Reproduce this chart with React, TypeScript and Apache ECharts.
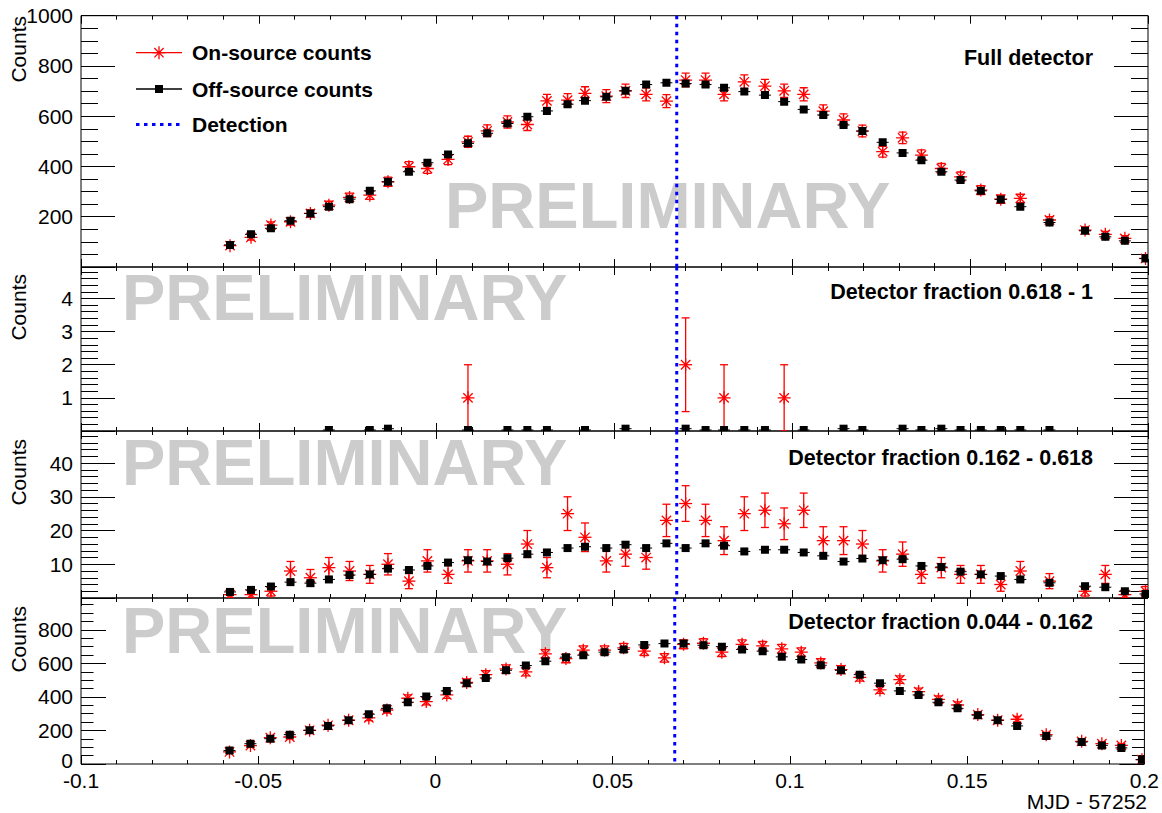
import React, { useEffect, useRef } from 'react';
import * as echarts from 'echarts';

// ---- data (MJD - 57252) ----
const TIMES = [
  -0.0581, -0.0522, -0.0466, -0.0411, -0.0355, -0.0303, -0.0245, -0.0188, -0.0137, -0.0078,
  -0.0026, 0.0032, 0.0088, 0.0142, 0.0199, 0.0255, 0.031, 0.0368, 0.0417, 0.0477,
  0.0531, 0.0589, 0.0646, 0.07, 0.0756, 0.0808, 0.0865, 0.0923, 0.0977, 0.1032,
  0.1087, 0.1144, 0.1197, 0.1254, 0.131, 0.1363, 0.1419, 0.1473, 0.153, 0.1586,
  0.1641, 0.1723, 0.1823, 0.188, 0.1935, 0.1993,
];

const FULL_ON = [
  85, 118, 167, 180, 213, 246, 277, 286, 339, 399,
  392, 428, 498, 542, 577, 567, 661, 664, 691, 680,
  701, 687, 660, 744, 744, 687, 737, 720, 701, 687,
  620, 585, 541, 459, 514, 445, 392, 359, 306, 270,
  273, 187, 147, 130, 114, 34,
];
const FULL_OFF = [
  88, 130, 154, 184, 213, 240, 270, 303, 339, 379,
  415, 448, 492, 532, 571, 598, 621, 648, 662, 677,
  701, 726, 733, 730, 726, 713, 698, 684, 658, 627,
  605, 565, 541, 496, 454, 425, 379, 346, 303, 269,
  240, 177, 144, 120, 104, 34,
];

const HIGH_ON = [
  0, 0, 0, 0, 0, 0, 0, 0, 0, 0,
  0, 0, 1, 0, 0, 0, 0, 0, 0, 0,
  0, 0, 0, 2, 0, 1, 0, 0, 1, 0,
  0, 0, 0, 0, 0, 0, 0, 0, 0, 0,
  0, 0, 0, 0, 0, 0,
];
const HIGH_OFF = [
  0, 0, 0, 0, 0, 0.03, 0, 0.03, 0.07, 0,
  0, 0, 0.03, 0, 0.03, 0.03, 0.03, 0, 0.03, 0,
  0.07, 0, 0, 0.07, 0.03, 0.03, 0.03, 0.03, 0, 0.03,
  0, 0.07, 0.03, 0, 0.07, 0.03, 0.07, 0.03, 0.03, 0.03,
  0.03, 0.03, 0, 0, 0, 0,
];

const MID_ON = [
  1, 1, 2, 8, 6, 9, 8, 7, 10, 5,
  11, 7, 11, 11, 10, 16, 9, 25, 18, 11,
  13, 12, 23, 28, 23, 17, 25, 26, 22, 26,
  17, 17, 16, 11, 13, 7, 9, 7, 7, 4,
  8, 5, 2, 7, 1, 2,
];
const MID_OFF = [
  1.8, 2.4, 3.4, 4.7, 4.4, 5.5, 6.8, 7.0, 8.7, 8.3,
  9.5, 10.5, 11.2, 10.8, 11.8, 13.0, 13.5, 14.8, 15.2, 14.8,
  15.8, 14.8, 16.2, 14.8, 16.2, 15.5, 13.8, 14.3, 14.3, 13.5,
  12.5, 10.8, 11.7, 11.2, 11.5, 9.5, 9.2, 7.8, 7.0, 6.5,
  5.5, 4.5, 3.5, 3.2, 2.0, 1.2,
];

const LOW_ON = [
  72, 110, 157, 161, 201, 231, 261, 275, 322, 392,
  372, 412, 486, 533, 567, 549, 657, 629, 679, 679,
  693, 673, 633, 714, 720, 667, 714, 704, 687, 667,
  603, 563, 517, 442, 503, 432, 386, 352, 295, 261,
  267, 175, 135, 121, 111, 26,
];
const LOW_OFF = [
  80, 121, 151, 175, 201, 227, 261, 297, 332, 368,
  402, 436, 482, 513, 559, 587, 613, 637, 649, 667,
  683, 710, 718, 718, 708, 700, 683, 673, 639, 623,
  589, 559, 533, 482, 436, 412, 368, 332, 291, 261,
  227, 167, 131, 111, 96, 26,
];

const DETECTION = [0.0675];
const PANEL_LABELS = [
  'Full detector',
  'Detector fraction 0.618 - 1',
  'Detector fraction 0.162 - 0.618',
  'Detector fraction 0.044 - 0.162',
];
const LEGEND_LABELS = ['On-source counts', 'Off-source counts', 'Detection'];
const Y_MAX = [1000, 4.95, 49.5, 990];
const Y_STEP = [200, 1, 10, 200];
const Y_MINOR = [4, 5, 5, 4];
const X_MIN = -0.1;
const X_MAX = 0.2;
const X_STEP = 0.05;
const X_TITLE = 'MJD - 57252';
const Y_TITLE = 'Counts';
const WATERMARK = 'PRELIMINARY';

const ON_SETS = [FULL_ON, HIGH_ON, MID_ON, LOW_ON];
const OFF_SETS = [FULL_OFF, HIGH_OFF, MID_OFF, LOW_OFF];

// ---- layout / style ----
const FONT = '"Liberation Sans", Arial, Helvetica, sans-serif';
const RED = '#ff0000';
const BLUE = '#0000ff';
const GRID_LEFT = 81;
const GRID_WIDTH = 1067;
const GRID_TOPS = [15.7, 267, 431, 598];
const GRID_HEIGHTS = [251.3, 164, 167, 166];
const Y_TICK_LEN = [34, 34, 34, 25];

function clipOf(params: any) {
  const cs = params.coordSys;
  return { type: 'rect', shape: { x: cs.x, y: cs.y, width: cs.width, height: cs.height } };
}

function starLines(cx: number, cy: number, r: number, color: string, lw: number) {
  const d = r * 0.72;
  const st = { stroke: color, lineWidth: lw };
  return [
    { type: 'line', shape: { x1: cx - r, y1: cy, x2: cx + r, y2: cy }, style: st },
    { type: 'line', shape: { x1: cx, y1: cy - r, x2: cx, y2: cy + r }, style: st },
    { type: 'line', shape: { x1: cx - d, y1: cy - d, x2: cx + d, y2: cy + d }, style: st },
    { type: 'line', shape: { x1: cx - d, y1: cy + d, x2: cx + d, y2: cy - d }, style: st },
  ];
}

function renderOn(params: any, api: any) {
  const x = api.value(0);
  const y = api.value(1);
  if (!(y > 0)) return null;
  const e = Math.sqrt(y);
  const c = api.coord([x, y]);
  const t = api.coord([x, y + e]);
  const b = api.coord([x, y - e]);
  const st = { stroke: RED, lineWidth: 1.3 };
  return {
    type: 'group',
    clipPath: clipOf(params),
    children: [
      { type: 'line', shape: { x1: c[0], y1: t[1], x2: c[0], y2: b[1] }, style: st },
      { type: 'line', shape: { x1: c[0] - 4, y1: t[1], x2: c[0] + 4, y2: t[1] }, style: st },
      { type: 'line', shape: { x1: c[0] - 4, y1: b[1], x2: c[0] + 4, y2: b[1] }, style: st },
      ...starLines(c[0], c[1], 6.5, RED, 1.3),
      { type: 'circle', shape: { cx: c[0], cy: c[1], r: 1.6 }, style: { fill: RED } },
    ],
  };
}

function renderOff(params: any, api: any) {
  const x = api.value(0);
  const y = api.value(1);
  if (!(y > 0)) return null;
  const c = api.coord([x, y]);
  return {
    type: 'group',
    clipPath: clipOf(params),
    children: [
      { type: 'line', shape: { x1: c[0] - 6, y1: c[1], x2: c[0] + 6, y2: c[1] }, style: { stroke: '#000', lineWidth: 1 } },
      { type: 'rect', shape: { x: c[0] - 4, y: c[1] - 4, width: 8, height: 8 }, style: { fill: '#000' } },
    ],
  };
}

function renderDetection(params: any, api: any) {
  const x = api.value(0);
  const cs = params.coordSys;
  const p = api.coord([x, 0]);
  return {
    type: 'line',
    shape: { x1: p[0], y1: cs.y, x2: p[0], y2: cs.y + cs.height },
    style: { stroke: BLUE, lineWidth: 3, lineDash: [3.5, 4.5] },
  };
}

function buildOption() {
  const grid: any[] = [];
  const xAxis: any[] = [];
  const yAxis: any[] = [];
  const series: any[] = [];
  const tickStyle = { color: '#000', width: 1 };

  for (let i = 0; i < 4; i++) {
    grid.push({
      left: GRID_LEFT, width: GRID_WIDTH, top: GRID_TOPS[i], height: GRID_HEIGHTS[i],
      show: true, borderColor: '#000', borderWidth: 1, backgroundColor: 'rgba(0,0,0,0)',
    });
    ['bottom', 'top'].forEach((pos) => {
      xAxis.push({
        gridIndex: i, type: 'value', position: pos, min: X_MIN, max: X_MAX, interval: X_STEP,
        axisLine: { show: false, onZero: false },
        axisTick: { show: true, inside: true, length: 8, lineStyle: tickStyle },
        minorTick: { show: true, splitNumber: 5, length: 4, lineStyle: tickStyle },
        splitLine: { show: false },
        axisLabel: {
          show: pos === 'bottom' && i === 3, color: '#000', fontSize: 21, fontFamily: FONT, margin: 6,
          formatter: (v: number) => String(v),
        },
      });
    });
    ['left', 'right'].forEach((pos) => {
      yAxis.push({
        gridIndex: i, type: 'value', position: pos, min: 0, max: Y_MAX[i], interval: Y_STEP[i],
        axisLine: { show: false, onZero: false },
        axisTick: { show: true, inside: true, length: Y_TICK_LEN[i], lineStyle: tickStyle },
        minorTick: { show: true, splitNumber: Y_MINOR[i], length: Y_TICK_LEN[i] / 2, lineStyle: tickStyle },
        splitLine: { show: false },
        axisLabel: {
          show: pos === 'left', color: '#000', fontSize: 21, fontFamily: FONT, margin: 8,
          showMinLabel: i === 3, showMaxLabel: i === 0,
          formatter: (v: number) => (v === 0 ? '{z|0}' : String(v)),
          rich: { z: { fontSize: 21, fontFamily: FONT, color: '#000', padding: [0, 0, 8, 0] } },
        },
      });
    });

    series.push({
      type: 'custom', name: LEGEND_LABELS[0], xAxisIndex: 2 * i, yAxisIndex: 2 * i,
      renderItem: renderOn, z: 3, clip: true,
      data: TIMES.map((t, k) => [t, ON_SETS[i][k]]),
      encode: { x: 0, y: 1 },
    });
    series.push({
      type: 'custom', name: LEGEND_LABELS[1], xAxisIndex: 2 * i, yAxisIndex: 2 * i,
      renderItem: renderOff, z: 4, clip: true,
      data: TIMES.map((t, k) => [t, OFF_SETS[i][k]]),
      encode: { x: 0, y: 1 },
    });
    series.push({
      type: 'custom', name: LEGEND_LABELS[2], xAxisIndex: 2 * i, yAxisIndex: 2 * i,
      renderItem: renderDetection, z: 5, silent: true,
      data: DETECTION.map((d) => [d, 0]),
      encode: { x: 0, y: 1 },
    });
  }

  const graphic: any[] = [];
  const WM_X = [445, 122, 122, 122];
  const WM_Y = [205, 297, 462, 630];
  const LAB_Y = [58, 292, 458, 622];
  const TITLE_Y = [16, 274, 439, 606];
  for (let i = 0; i < 4; i++) {
    graphic.push({
      type: 'text', x: WM_X[i], y: WM_Y[i], z: 1, silent: true,
      style: { text: WATERMARK, fill: '#cccccc', font: `bold 65px ${FONT}`, align: 'left', verticalAlign: 'middle' },
    });
    graphic.push({
      type: 'text', x: 1093, y: LAB_Y[i], z: 10,
      style: { text: PANEL_LABELS[i], fill: '#000', font: `bold 21.5px ${FONT}`, align: 'right', verticalAlign: 'middle' },
    });
    graphic.push({
      type: 'text', x: 18, y: TITLE_Y[i], rotation: Math.PI / 2, z: 10,
      style: { text: Y_TITLE, fill: '#000', font: `21px ${FONT}`, align: 'right', verticalAlign: 'middle' },
    });
  }
  graphic.push({
    type: 'text', x: 1147, y: 801, z: 10,
    style: { text: X_TITLE, fill: '#000', font: `21px ${FONT}`, align: 'right', verticalAlign: 'middle' },
  });

  // legend
  const LX1 = 136, LX2 = 182, LM = 159, LT = 192;
  const LY = [52.7, 89, 124.5];
  graphic.push({ type: 'line', shape: { x1: LX1, y1: LY[0], x2: LX2, y2: LY[0] }, style: { stroke: RED, lineWidth: 1.3 }, z: 10 });
  starLines(LM, LY[0], 6.5, RED, 1.3).forEach((l) => graphic.push({ ...l, z: 10 }));
  graphic.push({ type: 'circle', shape: { cx: LM, cy: LY[0], r: 1.6 }, style: { fill: RED }, z: 10 });
  graphic.push({ type: 'line', shape: { x1: LX1, y1: LY[1], x2: LX2, y2: LY[1] }, style: { stroke: '#000', lineWidth: 1.3 }, z: 10 });
  graphic.push({ type: 'rect', shape: { x: LM - 4, y: LY[1] - 4, width: 8, height: 8 }, style: { fill: '#000' }, z: 10 });
  graphic.push({ type: 'line', shape: { x1: LX1, y1: LY[2], x2: LX2, y2: LY[2] }, style: { stroke: BLUE, lineWidth: 3, lineDash: [3.5, 4.5] }, z: 10 });
  LEGEND_LABELS.forEach((t, k) => {
    graphic.push({
      type: 'text', x: LT, y: LY[k], z: 10,
      style: { text: t, fill: '#000', font: `bold 21px ${FONT}`, align: 'left', verticalAlign: 'middle' },
    });
  });

  return {
    animation: false,
    backgroundColor: '#ffffff',
    textStyle: { fontFamily: FONT },
    grid, xAxis, yAxis, series, graphic,
  };
}

export default function App() {
  const ref = useRef<HTMLDivElement>(null);
  useEffect(() => {
    document.body.style.margin = '0';
    if (!ref.current) return;
    const chart = echarts.init(ref.current, undefined, { renderer: 'svg' });
    chart.setOption(buildOption() as any);
    return () => chart.dispose();
  }, []);
  return <div ref={ref} style={{ width: 1162, height: 813 }} />;
}
